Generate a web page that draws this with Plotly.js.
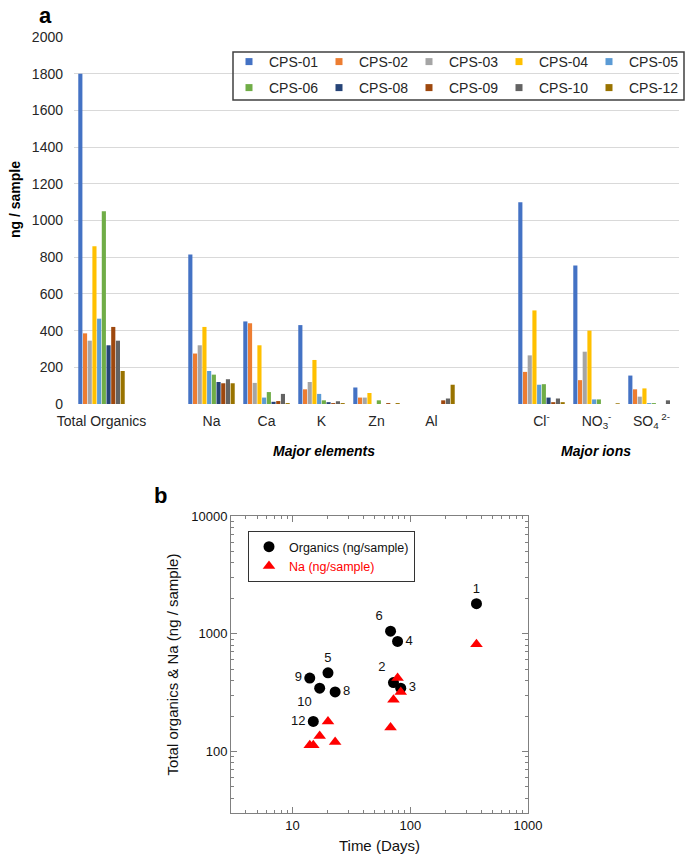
<!DOCTYPE html>
<html><head><meta charset="utf-8">
<script src="https://cdn.plot.ly/plotly-3.0.1.min.js"></script>
<style>html,body{margin:0;padding:0;background:#fff}#chart{width:685px;height:856px}</style>
</head><body><div id="chart"></div>
<script>
// ---------- data ----------
const samples = ['CPS-01','CPS-02','CPS-03','CPS-04','CPS-05','CPS-06','CPS-08','CPS-09','CPS-10','CPS-12'];
const categories = ['Total Organics','gap1','Na','Ca','K','Zn','Al','gap2','Cl','NO3','SO4'];
const categoryLabels = ['Total Organics',' ','Na','Ca','K','Zn','Al',' ','Cl<sup>-</sup>','NO<sub>3</sub><sup>-</sup>','SO<sub>4</sub><sup> 2-</sup>'];
const totalOrganics = [1800,385,345,860,465,1050,320,420,345,180];
const na  = [815,275,320,420,180,160,120,113,135,113];
const ca  = [450,440,115,320,35,65,12,16,55,5];
const k   = [430,80,120,240,55,20,10,5,15,5];
const zn  = [90,35,35,60,0,20,0,5,0,5];
const al  = [0,0,0,0,0,0,0,20,30,105];
const cl  = [1100,175,265,510,105,108,35,10,30,10];
const no3 = [755,130,285,400,25,25,0,0,0,4];
const so4 = [155,80,40,85,5,5,0,0,20,0];
const days = [365,72,83,78,20,68,23,14,17,15];
const pointLabels = ['1','2','3','4','5','6','8','9','10','12'];

// ---------- styles ----------
const colors = ['#4472C4','#ED7D31','#A5A5A5','#FFC000','#5B9BD5','#70AD47','#264478','#9E480E','#636363','#997300'];
const labelPositions = ['top center','top left','middle right','middle right','top center','top left','middle right','middle left','bottom left','middle left'];
const FONT = 'Arial, "Liberation Sans", Helvetica, sans-serif';
const W = 685, H = 856;
const px = v => v / W;
const py = v => 1 - v / H;

const byCategory = {'Total Organics': totalOrganics, 'Na': na, 'Ca': ca, 'K': k, 'Zn': zn, 'Al': al, 'Cl': cl, 'NO3': no3, 'SO4': so4};

const traces = [];
samples.forEach((s, i) => {
  traces.push({
    type: 'bar', name: s, x: categories,
    y: categories.map(c => byCategory[c] ? byCategory[c][i] : null),
    marker: {color: colors[i], line: {width: 0}},
    xaxis: 'x', yaxis: 'y', showlegend: false, hoverinfo: 'x+y+name'
  });
});
// legend entries (small squares like the original)
samples.forEach((s, i) => {
  traces.push({
    type: 'scatter', mode: 'markers', name: s, x: [null], y: [null],
    marker: {symbol: 'square', size: 7, color: colors[i]},
    xaxis: 'x', yaxis: 'y', legend: i < 5 ? 'legend' : 'legend2', showlegend: true
  });
});
// panel b
traces.push({
  type: 'scatter', mode: 'markers+text', name: 'Organics (ng/sample)',
  x: days, y: totalOrganics, text: pointLabels, textposition: labelPositions,
  textfont: {family: FONT, size: 13, color: '#111'},
  marker: {symbol: 'circle', size: 11, color: '#000'},
  xaxis: 'x2', yaxis: 'y2', legend: 'legend3', cliponaxis: false
});
traces.push({
  type: 'scatter', mode: 'markers', name: '<span style="color:#ff0000">Na (ng/sample)</span>',
  x: days, y: na,
  marker: {symbol: 'triangle-up', size: 11, color: '#ff0000'},
  xaxis: 'x2', yaxis: 'y2', legend: 'legend3', cliponaxis: false
});

const legendCommon = {
  orientation: 'h', entrywidth: 45, entrywidthmode: 'pixels',
  xanchor: 'left', yanchor: 'middle', bgcolor: 'rgba(0,0,0,0)', borderwidth: 0,
  font: {family: FONT, size: 14, color: '#262626'}
};

const layout = {
  width: W, height: H,
  margin: {l: 0, r: 0, t: 0, b: 0},
  paper_bgcolor: '#fff', plot_bgcolor: 'rgba(0,0,0,0)',
  font: {family: FONT, color: '#262626'},
  barmode: 'group', bargap: 0.145, bargroupgap: 0.12,
  xaxis: {
    domain: [px(74), px(679)], anchor: 'y', type: 'category',
    categoryorder: 'array', categoryarray: categories,
    tickvals: categories, ticktext: categoryLabels,
    range: [-0.5, categories.length - 0.5],
    showgrid: false, zeroline: false, showline: false, ticks: '',
    tickfont: {family: FONT, size: 14, color: '#262626'}, ticklabelstandoff: 7
  },
  yaxis: {
    domain: [py(404), py(37)], anchor: 'x', range: [0, 2000], dtick: 200,
    showgrid: true, gridcolor: '#D9D9D9', gridwidth: 1.2, zeroline: false, showline: false, ticks: '',
    tickfont: {family: FONT, size: 14, color: '#262626'}, ticklabelstandoff: 10
  },
  xaxis2: {
    domain: [px(231), px(528)], anchor: 'y2', type: 'log', range: [Math.log10(3), 3], dtick: 1,
    showline: true, linecolor: '#808080', linewidth: 1, mirror: 'ticks',
    ticks: 'inside', ticklen: 6, tickcolor: '#808080', showgrid: false, zeroline: false,
    minor: {ticks: 'inside', ticklen: 3, tickcolor: '#808080', dtick: 'D1', showgrid: false},
    tickformat: 'd',
    tickfont: {family: FONT, size: 13, color: '#111'},
    title: {text: 'Time (Days)', font: {family: FONT, size: 15, color: '#111'}, standoff: 8}
  },
  yaxis2: {
    domain: [py(813), py(516)], anchor: 'x2', type: 'log', range: [Math.log10(30), 4], dtick: 1,
    showline: true, linecolor: '#808080', linewidth: 1, mirror: 'ticks',
    ticks: 'inside', ticklen: 6, tickcolor: '#808080', showgrid: false, zeroline: false,
    minor: {ticks: 'inside', ticklen: 3, tickcolor: '#808080', dtick: 'D1', showgrid: false},
    tickformat: 'd',
    tickfont: {family: FONT, size: 13, color: '#111'},
    title: {text: 'Total organics &amp; Na (ng / sample)', font: {family: FONT, size: 15, color: '#111'}, standoff: 8}
  },
  legend: Object.assign({}, legendCommon, {x: px(229), y: py(62)}),
  legend2: Object.assign({}, legendCommon, {x: px(229), y: py(88)}),
  legend3: {
    orientation: 'v', x: px(248), y: py(531), xanchor: 'left', yanchor: 'top',
    bgcolor: '#fff', bordercolor: '#333', borderwidth: 1,
    font: {family: FONT, size: 12.5, color: '#111'}, tracegroupgap: 0
  },
  shapes: [
    {type: 'rect', xref: 'paper', yref: 'paper', x0: px(233), x1: px(684), y0: py(100), y1: py(52),
     line: {color: '#404040', width: 1.5}, fillcolor: 'rgba(0,0,0,0)'}
  ],
  annotations: [
    {text: '<b>a</b>', xref: 'paper', yref: 'paper', x: px(45), y: py(1), showarrow: false,
     font: {family: FONT, size: 22, color: '#000'}, xanchor: 'center', yanchor: 'top'},
    {text: '<b>b</b>', xref: 'paper', yref: 'paper', x: px(160), y: py(496), showarrow: false,
     font: {family: FONT, size: 22, color: '#000'}, xanchor: 'center', yanchor: 'middle'},
    {text: '<b>ng / sample</b>', xref: 'paper', yref: 'paper', x: px(15), y: py(200), showarrow: false,
     textangle: -90, font: {family: FONT, size: 14, color: '#000'}, xanchor: 'center', yanchor: 'middle'},
    {text: '<b><i>Major elements</i></b>', xref: 'paper', yref: 'paper', x: px(324), y: py(451), showarrow: false,
     font: {family: FONT, size: 14, color: '#000'}, xanchor: 'center', yanchor: 'middle'},
    {text: '<b><i>Major ions</i></b>', xref: 'paper', yref: 'paper', x: px(596), y: py(451), showarrow: false,
     font: {family: FONT, size: 14, color: '#000'}, xanchor: 'center', yanchor: 'middle'}
  ]
};

Plotly.newPlot('chart', traces, layout, {displayModeBar: false, staticPlot: true});
</script>
</body></html>
